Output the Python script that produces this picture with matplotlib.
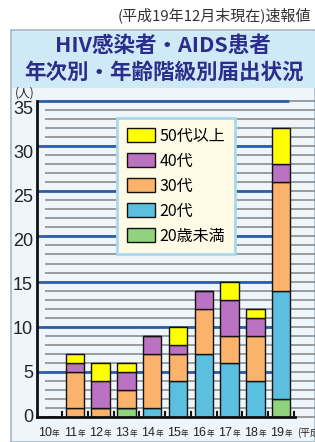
import matplotlib.pyplot as plt
from matplotlib.patches import Rectangle, Patch
import numpy as np

plt.rcParams['font.family'] = ['Noto Sans CJK JP', 'DejaVu Sans']

# data (人)
years = ['10', '11', '12', '13', '14', '15', '16', '17', '18', '19']
under20 = [0, 0, 0, 1, 0, 0, 0, 0, 0, 2]
age20s = [0, 1, 1, 0, 1, 4, 7, 6, 4, 12]
age30s = [0, 4, 0, 2, 6, 3, 5, 3, 5, 12]
age40s = [0, 1, 3, 2, 2, 1, 2, 4, 2, 2]
over50 = [0, 1, 2, 1, 0, 2, 0, 2, 1, 4]
# the 20代 block of 11年 and 12年 is coloured orange in the original
age20s_color = ['#5bbfe0'] * 10
age20s_color[1] = '#fbb36b'
age20s_color[2] = '#fbb36b'

series = [
    ('20歳未満', under20, '#8fd37c'),
    ('20代', age20s, '#5bbfe0'),
    ('30代', age30s, '#fbb36b'),
    ('40代', age40s, '#bb72c2'),
    ('50代以上', over50, '#ffff00'),
]

W, H = 315, 442
fig = plt.figure(figsize=(W / 100, H / 100), dpi=100)
fig.patch.set_facecolor('white')

def fx(px):
    return px / W

def fy(py):
    return 1 - py / H

# outer panel and title band
fig.add_artist(Rectangle((fx(11), fy(442)), fx(315 - 11), (442 - 30) / H,
                         transform=fig.transFigure, facecolor='#eef6fb',
                         edgecolor='#a9b8c2', lw=1.2, zorder=0))
fig.add_artist(Rectangle((fx(12), fy(88)), fx(315 - 12), (88 - 31) / H,
                         transform=fig.transFigure, facecolor='#d0e9f6',
                         edgecolor='none', zorder=0))

fig.text(fx(311), fy(15), '(平成19年12月末現在)速報値', ha='right', va='center',
         fontsize=10.8, color='#333333')
fig.text(fx(163), fy(46), 'HIV感染者・AIDS患者', ha='center', va='center',
         fontsize=15.5, fontweight='bold', color='#2a2d8c')
fig.text(fx(164), fy(72), '年次別・年齢階級別届出状況', ha='center', va='center',
         fontsize=15.5, fontweight='bold', color='#2a2d8c')
fig.text(fx(25), fy(93), '(人)', ha='center', va='center', fontsize=8.5,
         color='#222222')

# axes: x0=49px, 25.8px per year
x0, dx = 49, 25.8
ax = fig.add_axes([fx(37), fy(417), fx(315 - 37), (417 - 101) / H])
ax.set_xlim((37 - x0) / dx, (315 - x0) / dx)
ax.set_ylim(0, 35)
ax.patch.set_visible(False)
for s in ax.spines.values():
    s.set_visible(False)
ax.set_xticks([])
ax.set_yticks([])

xs = np.arange(len(years))

# grid lines
gx0 = (45 - x0) / dx
gx1 = (315 - x0) / dx
for v in range(0, 36):
    ax.plot([gx0, gx1], [v, v], color='#8c8c8c', lw=1.2, zorder=1,
            solid_capstyle='butt', clip_on=False)
for v in range(5, 36, 5):
    ax.plot([xs[0] - 0.47, 9.3], [v, v], color='#2f5ea8', lw=2, zorder=1.5,
            solid_capstyle='butt', clip_on=False)

# bars
bottom = np.zeros(len(years))
for name, vals, col in series:
    cols = age20s_color if name == '20代' else [col] * len(years)
    ax.bar(xs, vals, width=0.72, bottom=bottom, color=cols,
           edgecolor='#111111', lw=1, zorder=3)
    bottom += np.array(vals)

# axis lines and small ticks between years
ax.plot([-0.47, -0.47], [0, 35], color='#111111', lw=2, zorder=4, clip_on=False)
ax.plot([-0.47, 9.55], [0, 0], color='#111111', lw=2, zorder=4, clip_on=False)
for t in xs + 0.5:
    ax.plot([t, t], [0, 0.6], color='#111111', lw=1.5, zorder=4)

# tick labels sit a little lower than their lines near the top, as in the original
for v in range(0, 36, 5):
    ax.text(-0.62, v * 0.972, str(v), ha='right', va='center', fontsize=13,
            family=['Liberation Sans'], color='#222222')

for x, y in zip(xs, years):
    ax.text(x + 0.1, -1.75, y, ha='right', va='center', fontsize=9,
            family=['Liberation Sans'], color='#222222')
    ax.text(x + 0.12, -1.9, '年', ha='left', va='center', fontsize=5.5,
            color='#222222')
ax.text(9.62, -1.75, '(平成', ha='left', va='center', fontsize=7,
        color='#222222', clip_on=False)

handles = [Patch(facecolor=c, edgecolor='#111111', lw=1) for _, _, c in series][::-1]
labels = [n for n, _, _ in series][::-1]
leg = fig.legend(handles, labels, loc='upper left',
                 bbox_to_anchor=(fx(117), fy(118)), fontsize=11.5,
                 handlelength=1.75, handleheight=1.0, handletextpad=0.3,
                 labelspacing=0.5, borderpad=0.6, borderaxespad=0,
                 fancybox=False, framealpha=1)
leg.get_frame().set_facecolor('#fdfbe6')
leg.get_frame().set_edgecolor('#a9d9ec')
leg.get_frame().set_linewidth(2)
leg.set_zorder(10)

fig.savefig('out.png', dpi=100)
